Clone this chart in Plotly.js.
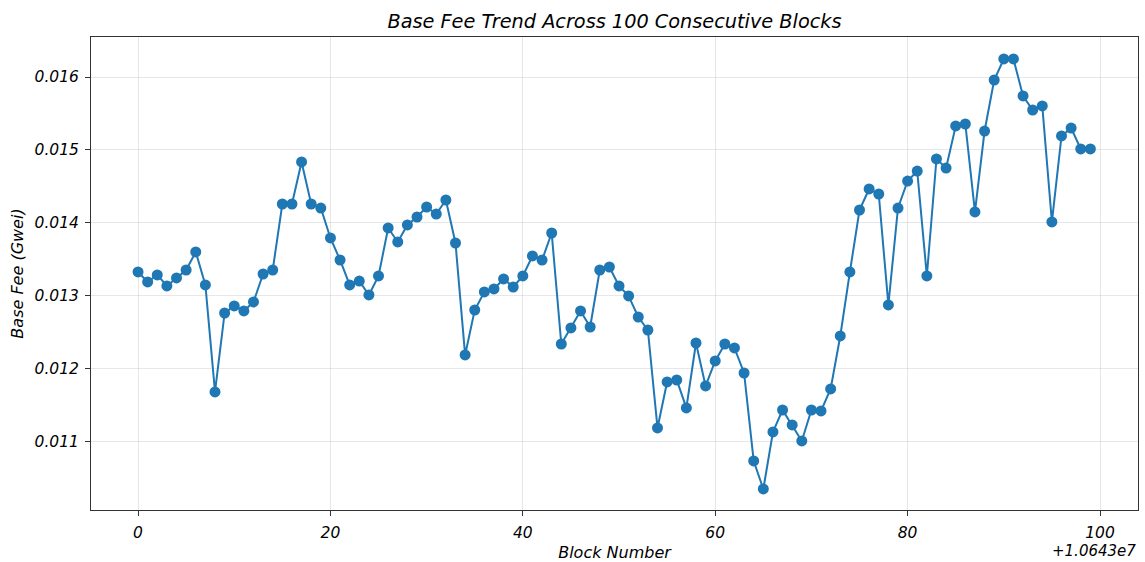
<!DOCTYPE html>
<html>
<head>
<meta charset="utf-8">
<script src="https://cdn.plot.ly/plotly-3.0.1.min.js"></script>
<style>html,body{margin:0;padding:0;background:#fff;}#chart{width:1145px;height:562px;}</style>
</head>
<body>
<div id="chart"></div>
<script>
const blockOffsetBase = 10643000;
const blockOffsets = [0,1,2,3,4,5,6,7,8,9,10,11,12,13,14,15,16,17,18,19,20,21,22,23,24,25,26,27,28,29,30,31,32,33,34,35,36,37,38,39,40,41,42,43,44,45,46,47,48,49,50,51,52,53,54,55,56,57,58,59,60,61,62,63,64,65,66,67,68,69,70,71,72,73,74,75,76,77,78,79,80,81,82,83,84,85,86,87,88,89,90,91,92,93,94,95,96,97,98,99];
const baseFee = [
0.013329,0.013192,0.013288,0.013137,0.013247,0.013356,0.013603,0.013151,0.011685,0.012767,
0.012863,0.012795,0.012918,0.013301,0.013356,0.014260,0.014260,0.014836,0.014260,0.014205,
0.013795,0.013493,0.013151,0.013205,0.013014,0.013274,0.013932,0.013740,0.013973,0.014082,
0.014219,0.014123,0.014315,0.013726,0.012192,0.012808,0.013055,0.013096,0.013233,0.013123,
0.013274,0.013548,0.013493,0.013863,0.012342,0.012562,0.012795,0.012575,0.013356,0.013397,
0.013137,0.013000,0.012712,0.012534,0.011192,0.011822,0.011849,0.011466,0.012356,0.011767,
0.012110,0.012342,0.012288,0.011945,0.010740,0.010356,0.011137,0.011438,0.011233,0.011014,
0.011438,0.011425,0.011726,0.012452,0.013329,0.014178,0.014466,0.014397,0.012877,0.014205,
0.014575,0.014712,0.013274,0.014877,0.014753,0.015329,0.015356,0.014151,0.015260,0.015959,
0.016247,0.016247,0.015740,0.015548,0.015603,0.014014,0.015192,0.015301,0.015014,0.015014];
const xTickVals = [0,20,40,60,80,100];
const yTickVals = [0.011,0.012,0.013,0.014,0.015,0.016];
const offsetLabel = '+1.0643e7';

const fam = 'DejaVu Sans, sans-serif';
const trace = {
  x: blockOffsets, y: baseFee, type: 'scatter', mode: 'lines+markers',
  line: {color: '#1f77b4', width: 2},
  marker: {color: '#1f77b4', size: 11},
  hoverinfo: 'skip'
};
const axisCommon = {
  showline: true, linecolor: '#333', linewidth: 1, mirror: true,
  ticks: 'outside', ticklen: 5, tickcolor: '#333', tickwidth: 1,
  showgrid: true, gridcolor: 'rgba(176,176,176,0.3)', gridwidth: 1,
  zeroline: false,
  tickfont: {family: fam, size: 15.5, color: '#000', style: 'italic'}
};
const layout = {
  width: 1145, height: 562,
  margin: {l: 91, r: 7, t: 37, b: 52},
  paper_bgcolor: '#fff', plot_bgcolor: '#fff',
  showlegend: false,
  title: {text: 'Base Fee Trend Across 100 Consecutive Blocks', xref: 'paper', x: 0.5, xanchor: 'center', yref: 'container', y: 0.962, yanchor: 'middle',
    font: {family: fam, size: 19.3, color: '#000', style: 'italic'}},
  xaxis: Object.assign({}, axisCommon, {
    range: [-4.89, 103.95], tickvals: xTickVals, ticktext: xTickVals.map(String),
    ticklabelstandoff: 3,
    title: {text: 'Block Number', standoff: 8, font: {family: fam, size: 16, color: '#000', style: 'italic'}}
  }),
  yaxis: Object.assign({}, axisCommon, {
    range: [0.010068, 0.016548], tickvals: yTickVals, ticktext: yTickVals.map(v => v.toFixed(3)),
    ticklabelstandoff: 3,
    title: {text: 'Base Fee (Gwei)', standoff: 6, font: {family: fam, size: 16, color: '#000', style: 'italic'}}
  }),
  annotations: [{
    text: offsetLabel, xref: 'paper', yref: 'paper', x: 1, y: -0.0865, xanchor: 'right', yanchor: 'middle',
    showarrow: false, font: {family: fam, size: 15, color: '#000', style: 'italic'}
  }]
};
Plotly.newPlot('chart', [trace], layout, {displayModeBar: false, staticPlot: true});
</script>
</body>
</html>
